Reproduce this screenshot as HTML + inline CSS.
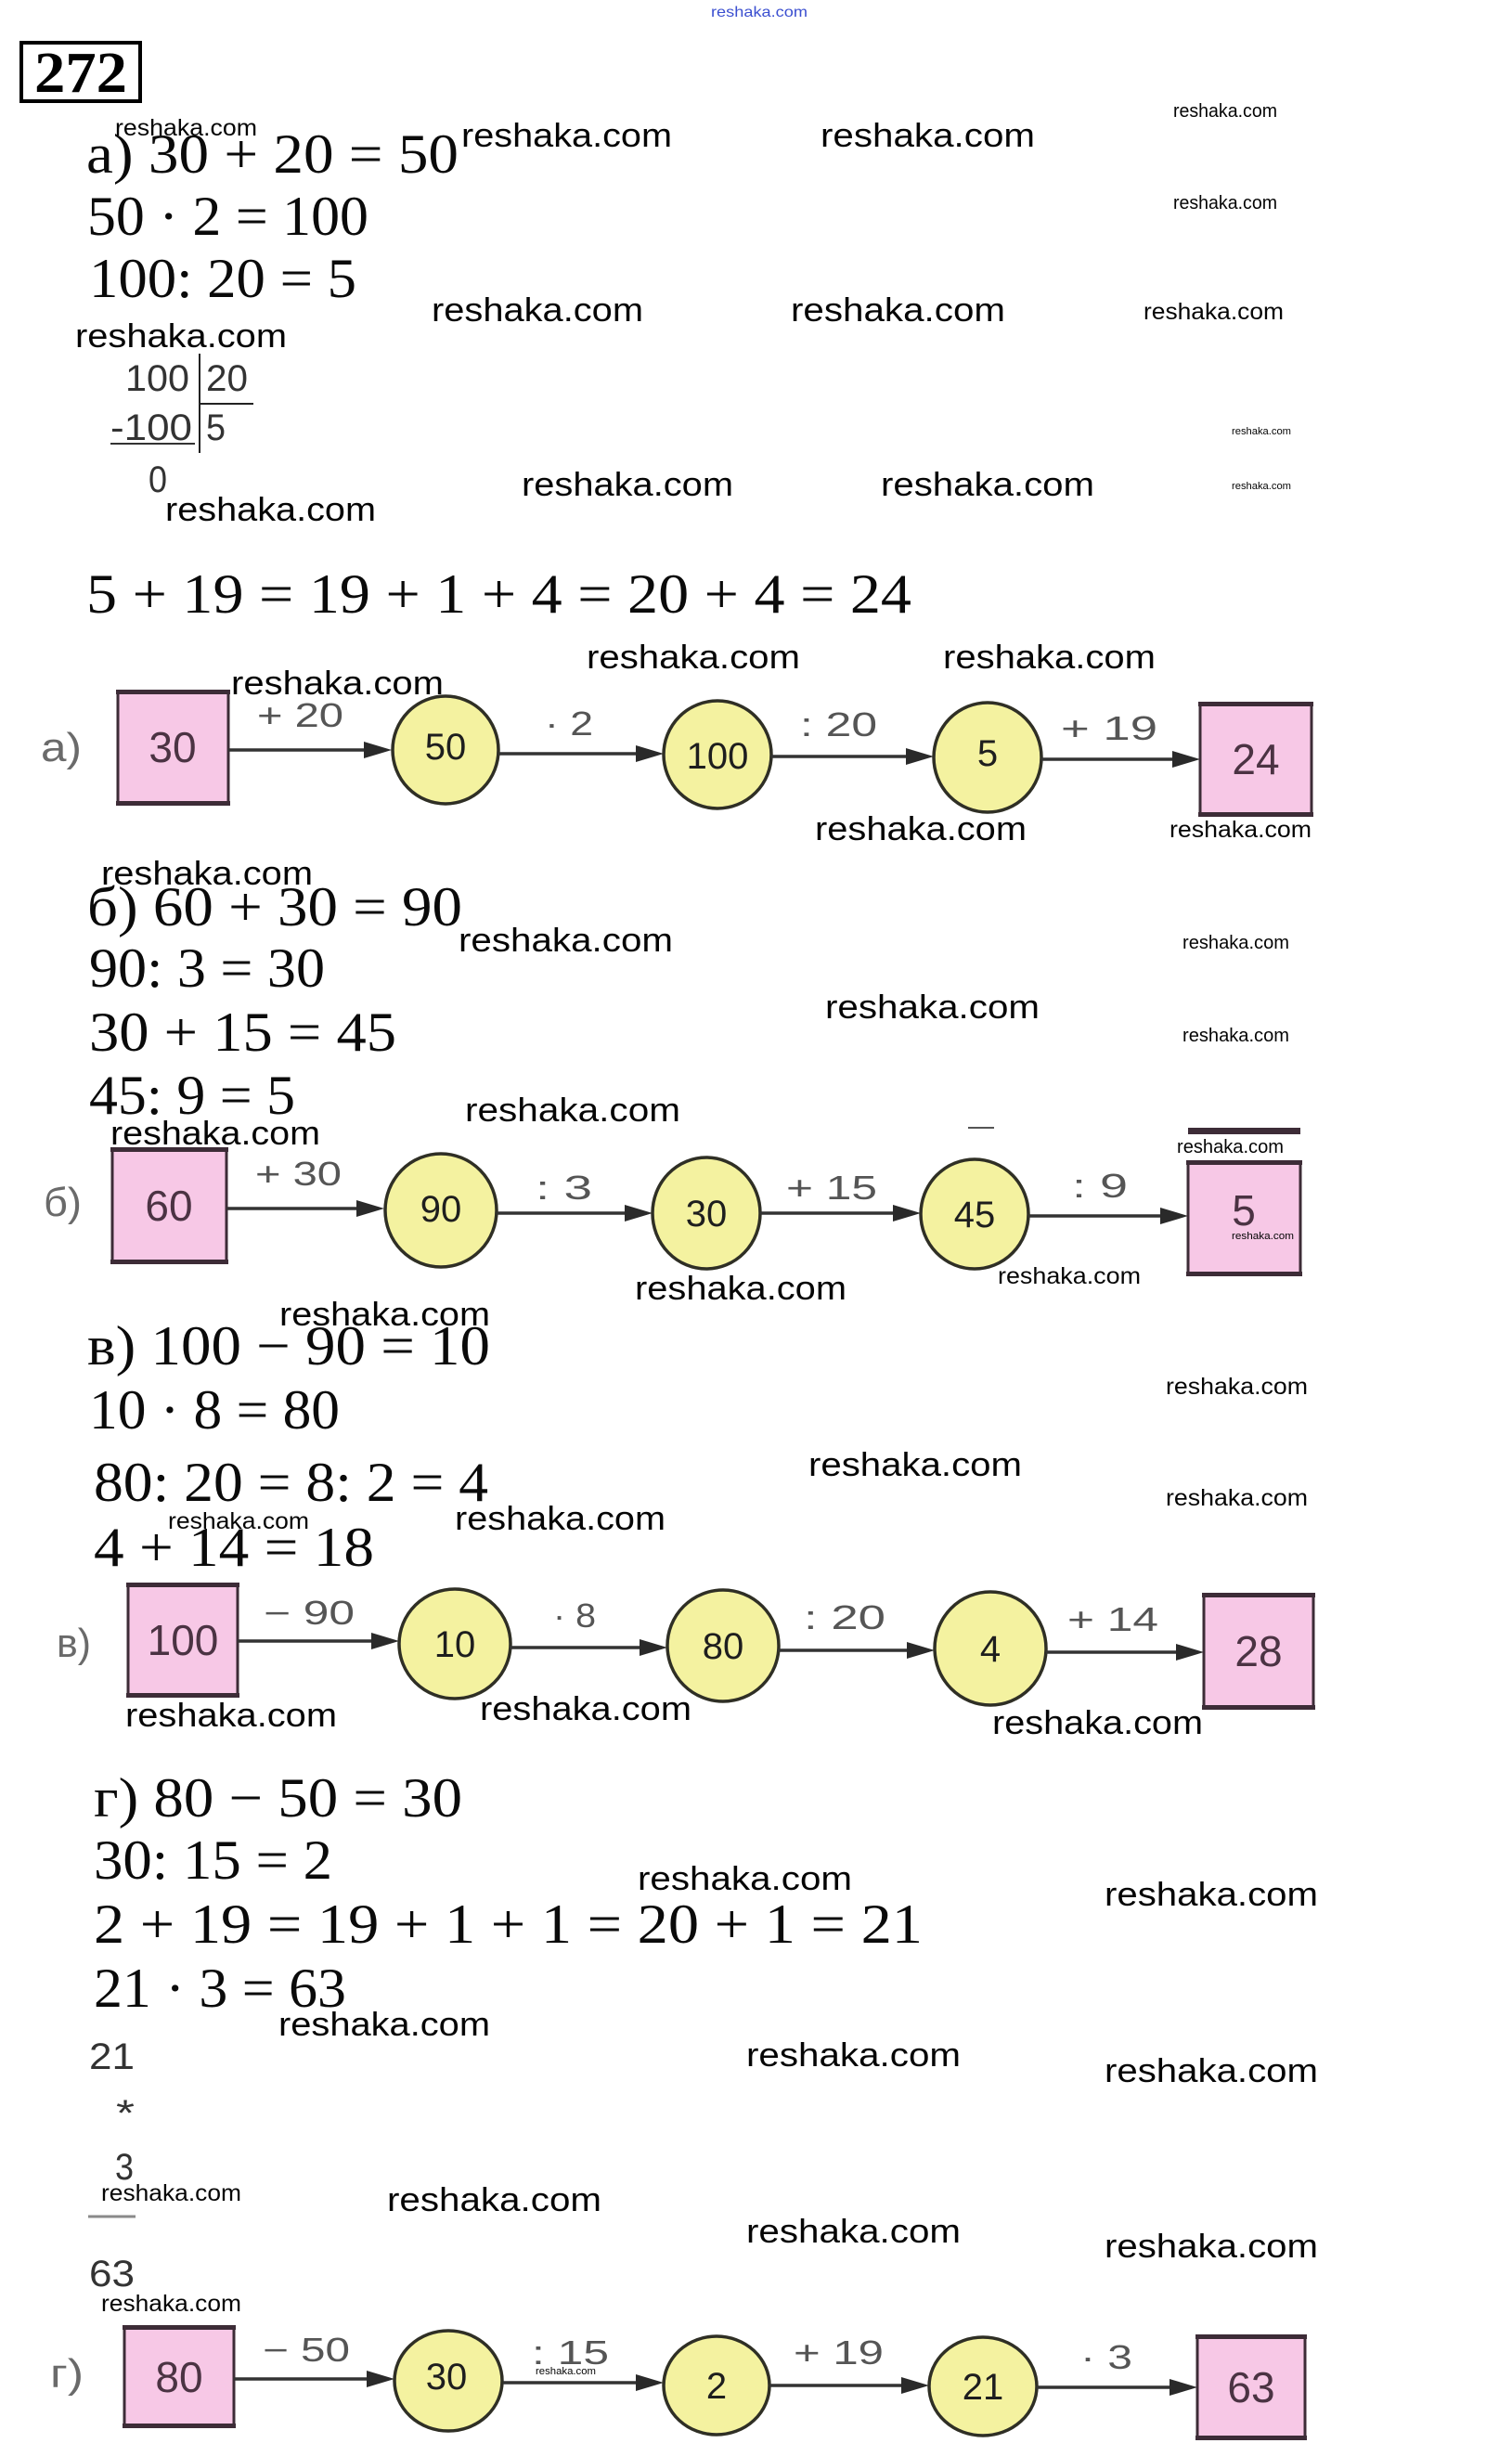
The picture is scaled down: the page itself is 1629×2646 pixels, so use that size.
<!DOCTYPE html>
<html>
<head>
<meta charset="utf-8">
<style>
html,body{margin:0;padding:0;background:#fff;}
svg{display:block;}
.m{font-family:"Liberation Serif",serif;font-size:60px;fill:#0a0a0a;}
.w{font-family:"Liberation Sans",sans-serif;fill:#050505;}
.o{font-family:"Liberation Sans",sans-serif;font-size:36px;fill:#555;}
.lb{font-family:"Liberation Sans",sans-serif;font-size:44px;fill:#6a6a6a;}
.ns{font-family:"Liberation Sans",sans-serif;font-size:46px;fill:#4b3343;}
.nc{font-family:"Liberation Sans",sans-serif;font-size:40px;fill:#1e1e1e;}
.d{font-family:"Liberation Sans",sans-serif;font-size:40px;fill:#333;}
.sq{fill:#f7c8e6;stroke:#3d2c37;stroke-width:3;}
.bar{fill:#3d2c37;}
.ci{fill:#f4f2a0;stroke:#2f2f25;stroke-width:3.5;}
.ln{stroke:#333;stroke-width:3.5;}
.hd{fill:#2a2a2a;}
</style>
</head>
<body>
<svg xmlns="http://www.w3.org/2000/svg" width="1629" height="2646" viewBox="0 0 1629 2646">
<rect width="1629" height="2646" fill="#fff"/>

<!-- top tiny blue watermark -->
<text x="766" y="18" font-family="Liberation Sans, sans-serif" font-size="16" fill="#3b4fd0" textLength="104" lengthAdjust="spacingAndGlyphs">reshaka.com</text>

<!-- 272 box -->
<rect x="23" y="46" width="128" height="63" fill="none" stroke="#000" stroke-width="4"/>
<text x="37" y="99" font-family="Liberation Serif, serif" font-weight="bold" font-size="62" textLength="100" lengthAdjust="spacingAndGlyphs">272</text>

<!-- ===== Section а ===== -->
<text class="m" x="93" y="186" textLength="401" lengthAdjust="spacingAndGlyphs">а) 30 + 20 = 50</text>
<text class="m" x="94" y="253" textLength="303" lengthAdjust="spacingAndGlyphs">50 · 2 = 100</text>
<text class="m" x="96" y="320" textLength="288" lengthAdjust="spacingAndGlyphs">100: 20 = 5</text>
<text class="m" x="93" y="660" textLength="889" lengthAdjust="spacingAndGlyphs">5 + 19 = 19 + 1 + 4 = 20 + 4 = 24</text>

<!-- long division -->
<text class="d" x="135" y="421" textLength="69" lengthAdjust="spacingAndGlyphs">100</text>
<text class="d" x="222" y="421" textLength="45" lengthAdjust="spacingAndGlyphs">20</text>
<line x1="215" y1="381" x2="215" y2="488" stroke="#222" stroke-width="2"/>
<line x1="215" y1="435" x2="273" y2="435" stroke="#222" stroke-width="2"/>
<text class="d" x="119" y="474" textLength="88" lengthAdjust="spacingAndGlyphs">-100</text>
<line x1="119" y1="478" x2="210" y2="478" stroke="#333" stroke-width="2"/>
<text class="d" x="222" y="474" textLength="21" lengthAdjust="spacingAndGlyphs">5</text>
<text class="d" x="160" y="530" textLength="20" lengthAdjust="spacingAndGlyphs">0</text>

<!-- watermarks section a -->
<text class="w" x="124" y="146" font-size="25" textLength="153" lengthAdjust="spacingAndGlyphs">reshaka.com</text>
<text class="w" x="497" y="158" font-size="36" textLength="227" lengthAdjust="spacingAndGlyphs">reshaka.com</text>
<text class="w" x="884" y="158" font-size="36" textLength="231" lengthAdjust="spacingAndGlyphs">reshaka.com</text>
<text class="w" x="1264" y="126" font-size="20" textLength="112" lengthAdjust="spacingAndGlyphs">reshaka.com</text>
<text class="w" x="1264" y="225" font-size="20" textLength="112" lengthAdjust="spacingAndGlyphs">reshaka.com</text>
<text class="w" x="465" y="346" font-size="36" textLength="228" lengthAdjust="spacingAndGlyphs">reshaka.com</text>
<text class="w" x="852" y="346" font-size="36" textLength="231" lengthAdjust="spacingAndGlyphs">reshaka.com</text>
<text class="w" x="1232" y="344" font-size="25" textLength="151" lengthAdjust="spacingAndGlyphs">reshaka.com</text>
<text class="w" x="81" y="374" font-size="36" textLength="228" lengthAdjust="spacingAndGlyphs">reshaka.com</text>
<text class="w" x="1327" y="468" font-size="11" textLength="64" lengthAdjust="spacingAndGlyphs">reshaka.com</text>
<text class="w" x="1327" y="527" font-size="11" textLength="64" lengthAdjust="spacingAndGlyphs">reshaka.com</text>
<text class="w" x="562" y="534" font-size="36" textLength="228" lengthAdjust="spacingAndGlyphs">reshaka.com</text>
<text class="w" x="949" y="534" font-size="36" textLength="230" lengthAdjust="spacingAndGlyphs">reshaka.com</text>
<text class="w" x="178" y="561" font-size="36" textLength="227" lengthAdjust="spacingAndGlyphs">reshaka.com</text>

<!-- ===== Diagram а ===== -->
<text class="lb" x="44" y="820" textLength="44" lengthAdjust="spacingAndGlyphs">а)</text>
<rect class="sq" x="127" y="745" width="119" height="121"/>
<rect class="bar" x="125" y="743" width="123" height="5"/>
<rect class="bar" x="125" y="863" width="123" height="5"/>
<text class="ns" x="186" y="821" text-anchor="middle">30</text>

<line class="ln" x1="246" y1="808" x2="396" y2="808"/>
<polygon class="hd" points="422,808 392,799 392,817"/>
<text class="o" x="277" y="783" textLength="93" lengthAdjust="spacingAndGlyphs">+ 20</text>

<ellipse class="ci" cx="480" cy="808" rx="57" ry="58"/>
<text class="nc" x="480" y="818" text-anchor="middle">50</text>

<line class="ln" x1="537" y1="812" x2="690" y2="812"/>
<polygon class="hd" points="715,812 685,803 685,821"/>
<text class="o" x="587" y="792" textLength="52" lengthAdjust="spacingAndGlyphs">· 2</text>

<ellipse class="ci" cx="773" cy="813" rx="58" ry="58"/>
<text class="nc" x="773" y="828" text-anchor="middle" font-size="38">100</text>

<line class="ln" x1="831" y1="815" x2="981" y2="815"/>
<polygon class="hd" points="1006,815 976,806 976,824"/>
<text class="o" x="862" y="793" textLength="83" lengthAdjust="spacingAndGlyphs">: 20</text>

<ellipse class="ci" cx="1064" cy="816" rx="58" ry="59"/>
<text class="nc" x="1064" y="825" text-anchor="middle">5</text>

<line class="ln" x1="1122" y1="818" x2="1268" y2="818"/>
<polygon class="hd" points="1293,818 1263,809 1263,827"/>
<text class="o" x="1143" y="797" textLength="104" lengthAdjust="spacingAndGlyphs">+ 19</text>

<rect class="sq" x="1293" y="758" width="120" height="120"/>
<rect class="bar" x="1291" y="756" width="124" height="5"/>
<rect class="bar" x="1291" y="875" width="124" height="5"/>
<text class="ns" x="1353" y="834" text-anchor="middle">24</text>

<text class="w" x="249" y="748" font-size="36" textLength="229" lengthAdjust="spacingAndGlyphs">reshaka.com</text>
<text class="w" x="632" y="720" font-size="36" textLength="230" lengthAdjust="spacingAndGlyphs">reshaka.com</text>
<text class="w" x="1016" y="720" font-size="36" textLength="229" lengthAdjust="spacingAndGlyphs">reshaka.com</text>
<text class="w" x="878" y="905" font-size="36" textLength="228" lengthAdjust="spacingAndGlyphs">reshaka.com</text>
<text class="w" x="1260" y="902" font-size="25" textLength="153" lengthAdjust="spacingAndGlyphs">reshaka.com</text>

<!-- ===== Section б ===== -->
<text class="w" x="109" y="953" font-size="36" textLength="228" lengthAdjust="spacingAndGlyphs">reshaka.com</text>
<text class="m" x="94" y="997" textLength="404" lengthAdjust="spacingAndGlyphs">б) 60 + 30 = 90</text>
<text class="w" x="494" y="1025" font-size="36" textLength="231" lengthAdjust="spacingAndGlyphs">reshaka.com</text>
<text class="w" x="1274" y="1022" font-size="20" textLength="115" lengthAdjust="spacingAndGlyphs">reshaka.com</text>
<text class="m" x="96" y="1063" textLength="254" lengthAdjust="spacingAndGlyphs">90: 3 = 30</text>
<text class="w" x="889" y="1097" font-size="36" textLength="231" lengthAdjust="spacingAndGlyphs">reshaka.com</text>
<text class="w" x="1274" y="1122" font-size="20" textLength="115" lengthAdjust="spacingAndGlyphs">reshaka.com</text>
<text class="m" x="96" y="1132" textLength="331" lengthAdjust="spacingAndGlyphs">30 + 15 = 45</text>
<text class="m" x="96" y="1200" textLength="222" lengthAdjust="spacingAndGlyphs">45: 9 = 5</text>
<text class="w" x="501" y="1208" font-size="36" textLength="232" lengthAdjust="spacingAndGlyphs">reshaka.com</text>
<text class="w" x="119" y="1233" font-size="36" textLength="226" lengthAdjust="spacingAndGlyphs">reshaka.com</text>

<!-- ===== Diagram б ===== -->
<text class="lb" x="47" y="1310" textLength="41" lengthAdjust="spacingAndGlyphs">б)</text>
<rect class="bar" x="1280" y="1215" width="121" height="7"/>
<line x1="1043" y1="1215" x2="1071" y2="1215" stroke="#555" stroke-width="2"/>

<rect class="sq" x="121" y="1238" width="123" height="122"/>
<rect class="bar" x="119" y="1236" width="127" height="5"/>
<rect class="bar" x="119" y="1357" width="127" height="5"/>
<text class="ns" x="182" y="1315" text-anchor="middle">60</text>

<line class="ln" x1="244" y1="1302" x2="389" y2="1302"/>
<polygon class="hd" points="414,1302 384,1293 384,1311"/>
<text class="o" x="275" y="1277" textLength="93" lengthAdjust="spacingAndGlyphs">+ 30</text>

<ellipse class="ci" cx="475" cy="1304" rx="60" ry="61"/>
<text class="nc" x="475" y="1316" text-anchor="middle">90</text>

<line class="ln" x1="535" y1="1307" x2="678" y2="1307"/>
<polygon class="hd" points="703,1307 673,1298 673,1316"/>
<text class="o" x="577" y="1292" textLength="61" lengthAdjust="spacingAndGlyphs">: 3</text>

<ellipse class="ci" cx="761" cy="1307" rx="58" ry="60"/>
<text class="nc" x="761" y="1321" text-anchor="middle">30</text>

<line class="ln" x1="819" y1="1307" x2="967" y2="1307"/>
<polygon class="hd" points="992,1307 962,1298 962,1316"/>
<text class="o" x="847" y="1292" textLength="98" lengthAdjust="spacingAndGlyphs">+ 15</text>

<ellipse class="ci" cx="1050" cy="1308" rx="58" ry="59"/>
<text class="nc" x="1050" y="1322" text-anchor="middle">45</text>

<line class="ln" x1="1108" y1="1310" x2="1255" y2="1310"/>
<polygon class="hd" points="1280,1310 1250,1301 1250,1319"/>
<text class="o" x="1155" y="1290" textLength="60" lengthAdjust="spacingAndGlyphs">: 9</text>

<rect class="sq" x="1280" y="1252" width="121" height="121"/>
<rect class="bar" x="1278" y="1250" width="125" height="5"/>
<rect class="bar" x="1278" y="1370" width="125" height="5"/>
<text class="ns" x="1340" y="1320" text-anchor="middle">5</text>

<text class="w" x="1268" y="1242" font-size="20" textLength="115" lengthAdjust="spacingAndGlyphs">reshaka.com</text>
<text class="w" x="1327" y="1335" font-size="11" textLength="67" lengthAdjust="spacingAndGlyphs">reshaka.com</text>
<text class="w" x="1075" y="1383" font-size="25" textLength="154" lengthAdjust="spacingAndGlyphs">reshaka.com</text>
<text class="w" x="684" y="1400" font-size="36" textLength="228" lengthAdjust="spacingAndGlyphs">reshaka.com</text>

<!-- ===== Section в ===== -->
<text class="w" x="301" y="1428" font-size="36" textLength="227" lengthAdjust="spacingAndGlyphs">reshaka.com</text>
<text class="m" x="94" y="1470" textLength="434" lengthAdjust="spacingAndGlyphs">в) 100 − 90 = 10</text>
<text class="w" x="1256" y="1502" font-size="25" textLength="153" lengthAdjust="spacingAndGlyphs">reshaka.com</text>
<text class="m" x="96" y="1539" textLength="270" lengthAdjust="spacingAndGlyphs">10 · 8 = 80</text>
<text class="w" x="871" y="1590" font-size="36" textLength="230" lengthAdjust="spacingAndGlyphs">reshaka.com</text>
<text class="m" x="101" y="1617" textLength="425" lengthAdjust="spacingAndGlyphs">80: 20 = 8: 2 = 4</text>
<text class="w" x="1256" y="1622" font-size="25" textLength="153" lengthAdjust="spacingAndGlyphs">reshaka.com</text>
<text class="w" x="181" y="1647" font-size="25" textLength="152" lengthAdjust="spacingAndGlyphs">reshaka.com</text>
<text class="w" x="490" y="1648" font-size="36" textLength="227" lengthAdjust="spacingAndGlyphs">reshaka.com</text>
<text class="m" x="101" y="1687" textLength="302" lengthAdjust="spacingAndGlyphs">4 + 14 = 18</text>

<!-- ===== Diagram в ===== -->
<text class="lb" x="61" y="1785" textLength="37" lengthAdjust="spacingAndGlyphs" font-size="40">в)</text>

<rect class="sq" x="138" y="1707" width="118" height="120"/>
<rect class="bar" x="136" y="1705" width="122" height="5"/>
<rect class="bar" x="136" y="1824" width="122" height="5"/>
<text class="ns" x="197" y="1783" text-anchor="middle">100</text>

<line class="ln" x1="256" y1="1768" x2="405" y2="1768"/>
<polygon class="hd" points="430,1768 400,1759 400,1777"/>
<text class="o" x="284" y="1750" textLength="98" lengthAdjust="spacingAndGlyphs">− 90</text>

<ellipse class="ci" cx="490" cy="1771" rx="60" ry="59"/>
<text class="nc" x="490" y="1785" text-anchor="middle">10</text>

<line class="ln" x1="549" y1="1775" x2="694" y2="1775"/>
<polygon class="hd" points="719,1775 689,1766 689,1784"/>
<text class="o" x="596" y="1753" textLength="46" lengthAdjust="spacingAndGlyphs">· 8</text>

<ellipse class="ci" cx="779" cy="1773" rx="60" ry="60"/>
<text class="nc" x="779" y="1787" text-anchor="middle">80</text>

<line class="ln" x1="838" y1="1778" x2="982" y2="1778"/>
<polygon class="hd" points="1007,1778 977,1769 977,1787"/>
<text class="o" x="866" y="1755" textLength="88" lengthAdjust="spacingAndGlyphs">: 20</text>

<ellipse class="ci" cx="1067" cy="1776" rx="60" ry="61"/>
<text class="nc" x="1067" y="1790" text-anchor="middle">4</text>

<line class="ln" x1="1127" y1="1780" x2="1272" y2="1780"/>
<polygon class="hd" points="1297,1780 1267,1771 1267,1789"/>
<text class="o" x="1150" y="1757" textLength="98" lengthAdjust="spacingAndGlyphs">+ 14</text>

<rect class="sq" x="1297" y="1718" width="118" height="122"/>
<rect class="bar" x="1295" y="1716" width="122" height="5"/>
<rect class="bar" x="1295" y="1837" width="122" height="5"/>
<text class="ns" x="1356" y="1795" text-anchor="middle">28</text>

<text class="w" x="135" y="1860" font-size="36" textLength="228" lengthAdjust="spacingAndGlyphs">reshaka.com</text>
<text class="w" x="517" y="1853" font-size="36" textLength="228" lengthAdjust="spacingAndGlyphs">reshaka.com</text>
<text class="w" x="1069" y="1868" font-size="36" textLength="227" lengthAdjust="spacingAndGlyphs">reshaka.com</text>

<!-- ===== Section г ===== -->
<text class="m" x="101" y="1957" textLength="397" lengthAdjust="spacingAndGlyphs">г) 80 − 50 = 30</text>
<text class="m" x="101" y="2024" textLength="257" lengthAdjust="spacingAndGlyphs">30: 15 = 2</text>
<text class="w" x="687" y="2036" font-size="36" textLength="231" lengthAdjust="spacingAndGlyphs">reshaka.com</text>
<text class="w" x="1190" y="2053" font-size="36" textLength="230" lengthAdjust="spacingAndGlyphs">reshaka.com</text>
<text class="m" x="101" y="2093" textLength="893" lengthAdjust="spacingAndGlyphs">2 + 19 = 19 + 1 + 1 = 20 + 1 = 21</text>
<text class="m" x="101" y="2162" textLength="272" lengthAdjust="spacingAndGlyphs">21 · 3 = 63</text>
<text class="w" x="300" y="2193" font-size="36" textLength="228" lengthAdjust="spacingAndGlyphs">reshaka.com</text>
<text class="w" x="804" y="2226" font-size="36" textLength="231" lengthAdjust="spacingAndGlyphs">reshaka.com</text>
<text class="w" x="1190" y="2243" font-size="36" textLength="230" lengthAdjust="spacingAndGlyphs">reshaka.com</text>

<!-- multiplication -->
<text class="d" x="96" y="2229" textLength="49" lengthAdjust="spacingAndGlyphs">21</text>
<text class="d" x="125" y="2290" textLength="20" lengthAdjust="spacingAndGlyphs" fill="#555">*</text>
<text class="d" x="124" y="2348" textLength="20" lengthAdjust="spacingAndGlyphs">3</text>
<line x1="95" y1="2388" x2="146" y2="2388" stroke="#8a8a8a" stroke-width="3"/>
<text class="d" x="96" y="2463" textLength="49" lengthAdjust="spacingAndGlyphs">63</text>

<text class="w" x="109" y="2371" font-size="25" textLength="151" lengthAdjust="spacingAndGlyphs">reshaka.com</text>
<text class="w" x="417" y="2382" font-size="36" textLength="231" lengthAdjust="spacingAndGlyphs">reshaka.com</text>
<text class="w" x="804" y="2416" font-size="36" textLength="231" lengthAdjust="spacingAndGlyphs">reshaka.com</text>
<text class="w" x="1190" y="2432" font-size="36" textLength="230" lengthAdjust="spacingAndGlyphs">reshaka.com</text>
<text class="w" x="109" y="2490" font-size="25" textLength="151" lengthAdjust="spacingAndGlyphs">reshaka.com</text>

<!-- ===== Diagram г ===== -->
<text class="lb" x="54" y="2572" textLength="36" lengthAdjust="spacingAndGlyphs">г)</text>

<rect class="sq" x="134" y="2507" width="118" height="107"/>
<rect class="bar" x="132" y="2505" width="122" height="5"/>
<rect class="bar" x="132" y="2611" width="122" height="5"/>
<text class="ns" x="193" y="2577" text-anchor="middle">80</text>

<line class="ln" x1="252" y1="2563" x2="400" y2="2563"/>
<polygon class="hd" points="425,2563 395,2554 395,2572"/>
<text class="o" x="283" y="2544" textLength="94" lengthAdjust="spacingAndGlyphs">− 50</text>

<ellipse class="ci" cx="483" cy="2565" rx="58" ry="54"/>
<text class="nc" x="481" y="2574" text-anchor="middle">30</text>

<line class="ln" x1="542" y1="2567" x2="690" y2="2567"/>
<polygon class="hd" points="715,2567 685,2558 685,2576"/>
<text class="o" x="573" y="2547" textLength="83" lengthAdjust="spacingAndGlyphs">: 15</text>
<text class="w" x="577" y="2558" font-size="11" textLength="65" lengthAdjust="spacingAndGlyphs">reshaka.com</text>

<ellipse class="ci" cx="772" cy="2570" rx="57" ry="53"/>
<text class="nc" x="772" y="2584" text-anchor="middle">2</text>

<line class="ln" x1="829" y1="2570" x2="976" y2="2570"/>
<polygon class="hd" points="1001,2570 971,2561 971,2579"/>
<text class="o" x="855" y="2547" textLength="97" lengthAdjust="spacingAndGlyphs">+ 19</text>

<ellipse class="ci" cx="1059" cy="2571" rx="58" ry="53"/>
<text class="nc" x="1059" y="2585" text-anchor="middle">21</text>

<line class="ln" x1="1117" y1="2572" x2="1265" y2="2572"/>
<polygon class="hd" points="1290,2572 1260,2563 1260,2581"/>
<text class="o" x="1164" y="2552" textLength="56" lengthAdjust="spacingAndGlyphs">· 3</text>

<rect class="sq" x="1290" y="2517" width="116" height="110"/>
<rect class="bar" x="1288" y="2515" width="120" height="5"/>
<rect class="bar" x="1288" y="2624" width="120" height="5"/>
<text class="ns" x="1348" y="2588" text-anchor="middle">63</text>

</svg>
</body>
</html>
